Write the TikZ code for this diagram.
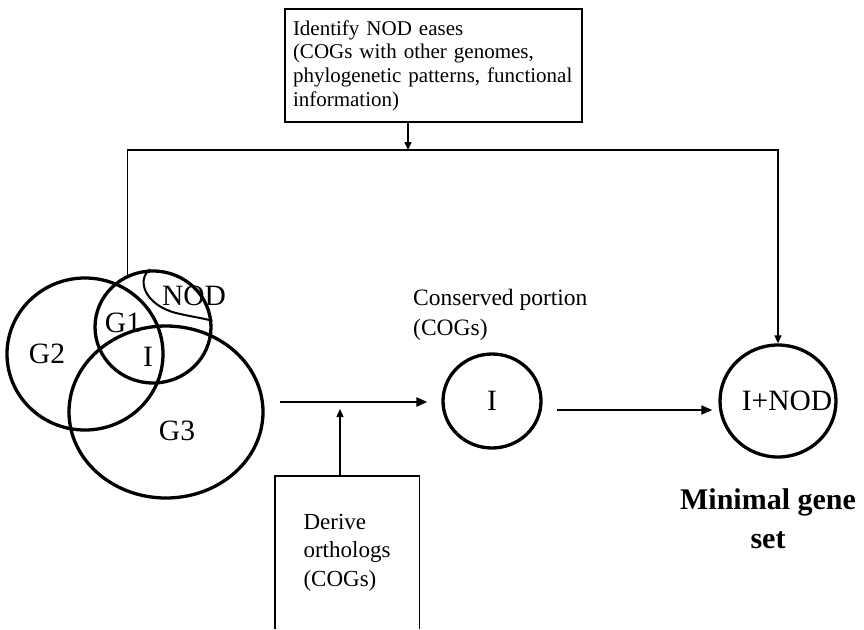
\documentclass[tikz,border=0pt]{standalone}
\usepackage{fontspec}
\setmainfont{Liberation Serif}
\usetikzlibrary{arrows.meta,shapes.geometric}
\begin{document}
\begin{tikzpicture}[x=1pt,y=-1pt,
  ring/.style={draw, ellipse, line width=3.3pt, inner sep=0pt},
  thinline/.style={line width=1.4pt},
  arr/.style={-{Triangle[length=11pt,width=9pt]}},
  smallarr/.style={-{Triangle[length=8pt,width=7pt]}},
  lbl/.style={font=\fontsize{29.5}{30}\selectfont, inner sep=0pt},
  txt/.style={font=\fontsize{23.5}{29}\selectfont, align=left, inner sep=0pt}
]
\useasboundingbox (0,0) rectangle (864,629);

% Venn diagram
\node[ring, minimum width=156, minimum height=152] (G2) at (85,354) {};
\node[ring, minimum width=116, minimum height=112] (G1) at (153,327) {};
\node[ring, minimum width=194, minimum height=172] (G3) at (166,412) {};
\draw[line width=2pt] (G1.93) .. controls (136,280) and (145,305) .. (176,313)
      .. controls (193,317) and (202,318) .. (G1.6);
\node[lbl] (lG2) at (47,354) {G2};
\node[lbl] (lG1) at (123,323) {G1};
\node[lbl] (lI) at (148,357) {I};
\node[lbl] (lNOD) at (194,296) {NOD};
\node[lbl] (lG3) at (177,431) {G3};

% top box
\node[draw, thinline, minimum width=297, minimum height=113, text width=281,
      inner xsep=8, align=left, font=\fontsize{21}{23.7}\selectfont] (idbox) at (433.5,65.5)
  {Identify NOD eases\\(COGs with other genomes,\\phylogenetic patterns, functional\\information)};
\coordinate (tj) at (408,150);

% conserved circle and final circle
\node[ring, minimum width=98, minimum height=94, font=\fontsize{29.5}{30}\selectfont] (iC) at (492,401) {I};
\node[ring, minimum width=116, minimum height=112,
      label={[lbl, xshift=9pt]center:I+NOD}] (inod) at (778,401) {};

\node[txt, anchor=west, font=\fontsize{23.5}{30}\selectfont] (cons) at (413,315) {Conserved portion\\(COGs)};

\node[align=center, inner sep=0pt, font=\fontsize{30}{39}\selectfont\bfseries] (mgs) at (768,519)
  {Minimal gene\\set};

% derive box (open at the bottom)
\node[minimum width=144, minimum height=153, inner sep=0pt, txt, font=\fontsize{23}{28.5}\selectfont] (dbox) at (347,552.5)
  {Derive\\orthologs\\(COGs)};
\draw[thinline] (dbox.south west) -- (dbox.north west) -- (dbox.north east) -- (dbox.south east);
\coordinate (dj) at (340,409);
\coordinate (a1s) at (280,402);

% connectors
\draw[thinline, smallarr] (tj |- idbox.south) -- (tj);
\draw[thinline, smallarr] (G1.116) |- (inod.north |- tj) -- (inod.north);
\draw[line width=2.4pt, arr] (a1s) -- ([xshift=-14pt]a1s -| iC.west);
\draw[thinline, smallarr] (dj |- dbox.north) -- (dj);
\draw[line width=2pt, arr] ([shift={(14,9)}]iC.east) -- ([shift={(-6,9)}]inod.west);
\end{tikzpicture}
\end{document}
